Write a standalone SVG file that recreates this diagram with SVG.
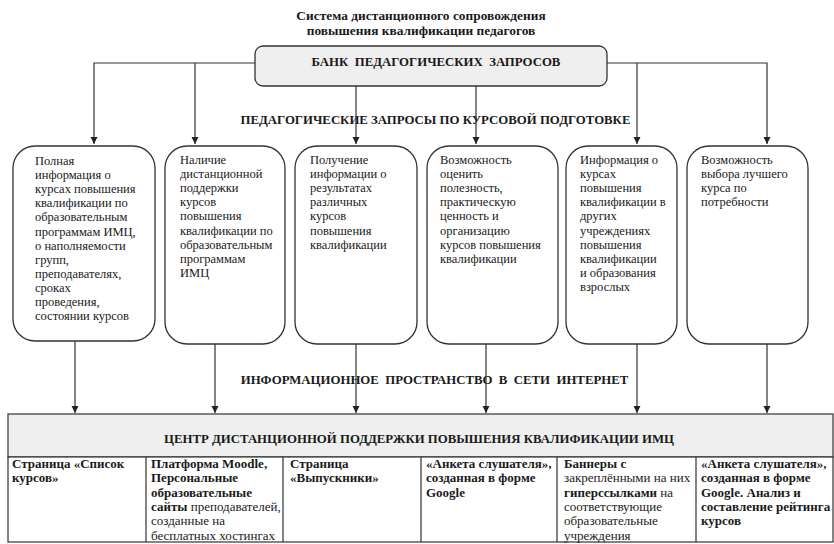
<svg xmlns="http://www.w3.org/2000/svg" width="834" height="544" viewBox="0 0 834 544">
<style>
text{font-family:"Liberation Serif","DejaVu Serif",serif;fill:#1a1a1a}
.t{font-size:13.4px;font-weight:bold}
.s{font-size:12.8px;font-weight:bold}
.h{font-size:12.8px;font-weight:bold}
.bx{fill:#fff;stroke:#333;stroke-width:1.3}
.bt{font-size:12.5px}
.cl{font-size:13px;font-weight:bold}
.n{font-weight:normal}
.ln{stroke:#333;stroke-width:1.2;fill:none}
</style>
<defs>
<marker id="ah" markerUnits="userSpaceOnUse" markerWidth="8" markerHeight="8" refX="7" refY="4" orient="auto">
<path d="M0,0.5 L7,4 L0,7.5 z" fill="#222"/>
</marker>
</defs>
<g id="title">
<text class="t" x="421" y="20" text-anchor="middle">Система дистанционного сопровождения</text>
<text class="t" x="421" y="35" text-anchor="middle">повышения квалификации педагогов</text>
</g>
<g id="bank">
<rect x="255" y="46" width="352" height="40" rx="8" fill="#efefef" stroke="#333" stroke-width="1.3"/>
<text class="h" x="436" y="66" text-anchor="middle" xml:space="preserve">БАНК  ПЕДАГОГИЧЕСКИХ  ЗАПРОСОВ</text>
</g>
<g id="label-requests">
<text class="s" x="435.5" y="124" text-anchor="middle">ПЕДАГОГИЧЕСКИЕ ЗАПРОСЫ ПО КУРСОВОЙ ПОДГОТОВКЕ</text>
</g>
<g id="label-internet">
<text class="s" x="434.5" y="384" text-anchor="middle" xml:space="preserve">ИНФОРМАЦИОННОЕ  ПРОСТРАНСТВО  В  СЕТИ  ИНТЕРНЕТ</text>
</g>
<g id="connectors">
<path class="ln" d="M255,63 H94 V144" marker-end="url(#ah)"/>
<path class="ln" d="M195,63 V144" marker-end="url(#ah)"/>
<path class="ln" d="M356,86 V144" marker-end="url(#ah)"/>
<path class="ln" d="M476,86 V144" marker-end="url(#ah)"/>
<path class="ln" d="M607,63 H767 V144" marker-end="url(#ah)"/>
<path class="ln" d="M637,63 V144" marker-end="url(#ah)"/>
<path class="ln" d="M75,341 V413" marker-end="url(#ah)"/>
<path class="ln" d="M215,344 V413" marker-end="url(#ah)"/>
<path class="ln" d="M356,344 V413" marker-end="url(#ah)"/>
<path class="ln" d="M486,344 V413" marker-end="url(#ah)"/>
<path class="ln" d="M637,344 V413" marker-end="url(#ah)"/>
<path class="ln" d="M767,344 V413" marker-end="url(#ah)"/>
</g>
<g id="box1">
<rect class="bx" x="13" y="146" width="142" height="195" rx="22"/>
<text class="bt" x="35" y="165">
<tspan x="35">Полная</tspan>
<tspan x="35" dy="14.1">информация о</tspan>
<tspan x="35" dy="14.1">курсах повышения</tspan>
<tspan x="35" dy="14.1">квалификации по</tspan>
<tspan x="35" dy="14.1">образовательным</tspan>
<tspan x="35" dy="14.1">программам ИМЦ,</tspan>
<tspan x="35" dy="14.1">о наполняемости</tspan>
<tspan x="35" dy="14.1">групп,</tspan>
<tspan x="35" dy="14.1">преподавателях,</tspan>
<tspan x="35" dy="14.1">сроках</tspan>
<tspan x="35" dy="14.1">проведения,</tspan>
<tspan x="35" dy="14.1">состоянии курсов</tspan>
</text>
</g>
<g id="box2">
<rect class="bx" x="165" y="146" width="120" height="198" rx="22"/>
<text class="bt" x="180" y="164">
<tspan x="180">Наличие</tspan>
<tspan x="180" dy="14.1">дистанционной</tspan>
<tspan x="180" dy="14.1">поддержки</tspan>
<tspan x="180" dy="14.1">курсов</tspan>
<tspan x="180" dy="14.1">повышения</tspan>
<tspan x="180" dy="14.1">квалификации по</tspan>
<tspan x="180" dy="14.1">образовательным</tspan>
<tspan x="180" dy="14.1">программам</tspan>
<tspan x="180" dy="14.1">ИМЦ</tspan>
</text>
</g>
<g id="box3">
<rect class="bx" x="295" y="146" width="122" height="198" rx="22"/>
<text class="bt" x="310" y="164">
<tspan x="310">Получение</tspan>
<tspan x="310" dy="14.1">информации о</tspan>
<tspan x="310" dy="14.1">результатах</tspan>
<tspan x="310" dy="14.1">различных</tspan>
<tspan x="310" dy="14.1">курсов</tspan>
<tspan x="310" dy="14.1">повышения</tspan>
<tspan x="310" dy="14.1">квалификации</tspan>
</text>
</g>
<g id="box4">
<rect class="bx" x="427" y="146" width="131" height="198" rx="22"/>
<text class="bt" x="440" y="164">
<tspan x="440">Возможность</tspan>
<tspan x="440" dy="14.1">оценить</tspan>
<tspan x="440" dy="14.1">полезность,</tspan>
<tspan x="440" dy="14.1">практическую</tspan>
<tspan x="440" dy="14.1">ценность и</tspan>
<tspan x="440" dy="14.1">организацию</tspan>
<tspan x="440" dy="14.1">курсов повышения</tspan>
<tspan x="440" dy="14.1">квалификации</tspan>
</text>
</g>
<g id="box5">
<rect class="bx" x="566" y="146" width="111" height="198" rx="22"/>
<text class="bt" x="580" y="164">
<tspan x="580">Информация о</tspan>
<tspan x="580" dy="14.1">курсах</tspan>
<tspan x="580" dy="14.1">повышения</tspan>
<tspan x="580" dy="14.1">квалификации в</tspan>
<tspan x="580" dy="14.1">других</tspan>
<tspan x="580" dy="14.1">учреждениях</tspan>
<tspan x="580" dy="14.1">повышения</tspan>
<tspan x="580" dy="14.1">квалификации</tspan>
<tspan x="580" dy="14.1">и образования</tspan>
<tspan x="580" dy="14.1">взрослых</tspan>
</text>
</g>
<g id="box6">
<rect class="bx" x="687" y="146" width="121" height="198" rx="22"/>
<text class="bt" x="701" y="164">
<tspan x="701">Возможность</tspan>
<tspan x="701" dy="14.1">выбора лучшего</tspan>
<tspan x="701" dy="14.1">курса по</tspan>
<tspan x="701" dy="14.1">потребности</tspan>
</text>
</g>
<g id="center">
<rect x="8" y="414" width="825" height="43" fill="#efefef" stroke="#333" stroke-width="1.2"/>
<rect x="8" y="457" width="825" height="85" fill="#fff" stroke="#333" stroke-width="1.2"/>
<path d="M146,457 V542 M283,457 V542 M421,457 V542 M557,457 V542 M696,457 V542" stroke="#333" stroke-width="1.2"/>
<text class="h" x="419" y="443" text-anchor="middle">ЦЕНТР ДИСТАНЦИОННОЙ ПОДДЕРЖКИ ПОВЫШЕНИЯ КВАЛИФИКАЦИИ ИМЦ</text>
<text class="cl" x="12" y="468">
<tspan x="12">Страница «Список</tspan>
<tspan x="12" dy="14.3">курсов»</tspan>
</text>
<text class="cl" x="151" y="468">
<tspan x="151">Платформа Moodle,</tspan>
<tspan x="151" dy="14.3">Персональные</tspan>
<tspan x="151" dy="14.3">образовательные</tspan>
<tspan x="151" dy="14.3">сайты <tspan class="n">преподавателей,</tspan></tspan>
<tspan x="151" dy="14.3" class="n">созданные на</tspan>
<tspan x="151" dy="14.3" class="n">бесплатных хостингах</tspan>
</text>
<text class="cl" x="290" y="468">
<tspan x="290">Страница</tspan>
<tspan x="290" dy="14.3">«Выпускники»</tspan>
</text>
<text class="cl" x="426" y="468">
<tspan x="426">«Анкета слушателя»,</tspan>
<tspan x="426" dy="14.3">созданная в форме</tspan>
<tspan x="426" dy="14.3">Google</tspan>
</text>
<text class="cl" x="564" y="468">
<tspan x="564">Баннеры с</tspan>
<tspan x="564" dy="14.3" class="n">закреплёнными на них</tspan>
<tspan x="564" dy="14.3">гиперссылками<tspan class="n"> на</tspan></tspan>
<tspan x="564" dy="14.3" class="n">соответствующие</tspan>
<tspan x="564" dy="14.3" class="n">образовательные</tspan>
<tspan x="564" dy="14.3" class="n">учреждения</tspan>
</text>
<text class="cl" x="701" y="468">
<tspan x="701">«Анкета слушателя»,</tspan>
<tspan x="701" dy="14.3">созданная в форме</tspan>
<tspan x="701" dy="14.3">Google. Анализ и</tspan>
<tspan x="701" dy="14.3">составление рейтинга</tspan>
<tspan x="701" dy="14.3">курсов</tspan>
</text>
</g>
</svg>
